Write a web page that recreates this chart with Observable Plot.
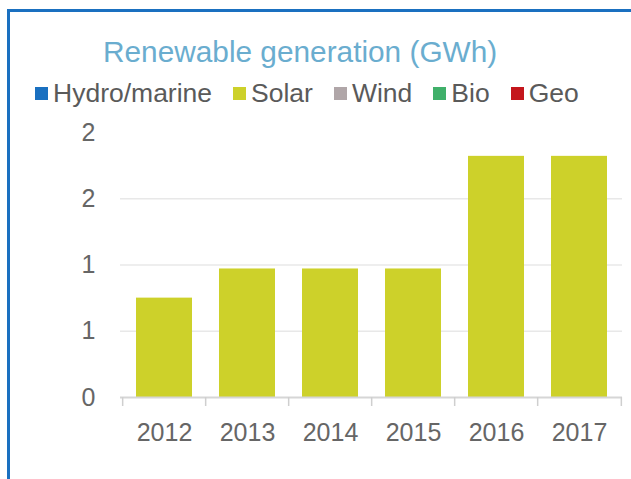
<!DOCTYPE html>
<html><head><meta charset="utf-8">
<script src="https://cdn.jsdelivr.net/npm/d3@7"></script>
<script src="https://cdn.jsdelivr.net/npm/@observablehq/plot@0.6"></script>
<style>
body{margin:0;background:#fff;overflow:hidden;}
#wrap{position:relative;width:631px;height:479px;overflow:hidden;font-family:"Liberation Sans",Arial,sans-serif;}
#frame{position:absolute;left:7px;top:9px;width:700px;height:600px;border-left:3px solid #1a70c0;border-top:3px solid #1a70c0;}
#title{position:absolute;left:103px;top:37px;font-size:29.8px;line-height:1;color:#6aadcf;white-space:nowrap;}
#legend{position:absolute;left:35px;top:80px;display:flex;align-items:center;font-size:26.5px;line-height:1;color:#5a5a5a;white-space:nowrap;}
.item{display:flex;align-items:center;margin-right:21px;}
.sw{width:13px;height:13px;margin-right:5px;}
#chart{position:absolute;left:0;top:110px;}
</style></head>
<body>
<div id="wrap">
  <div id="frame"></div>
  <div id="title">Renewable generation (GWh)</div>
  <div id="legend"></div>
  <div id="chart"></div>
</div>
<script>
const years = ["2012", "2013", "2014", "2015", "2016", "2017"];
const seriesNames = ["Hydro/marine", "Solar", "Wind", "Bio", "Geo"];
const seriesColors = ["#1a70c0", "#cdd12a", "#b0a6a8", "#40b06a", "#c4161c"];
const hydro = [0, 0, 0, 0, 0, 0];
const solar = [0.75, 0.97, 0.97, 0.97, 1.82, 1.82];
const wind = [0, 0, 0, 0, 0, 0];
const bio = [0, 0, 0, 0, 0, 0];
const geo = [0, 0, 0, 0, 0, 0];
const yTicks = [0, 0.5, 1, 1.5, 2];
const gridValues = [0.5, 1, 1.5];

const seriesValues = [hydro, solar, wind, bio, geo];
const table = [];
seriesNames.forEach((s, i) => years.forEach((y, j) => {
  if (seriesValues[i][j] > 0) table.push({year: y, series: s, value: seriesValues[i][j]});
}));

const legend = document.getElementById("legend");
seriesNames.forEach((s, i) => {
  const it = document.createElement("div");
  it.className = "item";
  const sw = document.createElement("div");
  sw.className = "sw";
  sw.style.background = seriesColors[i];
  const t = document.createElement("span");
  t.textContent = s;
  it.appendChild(sw); it.appendChild(t);
  legend.appendChild(it);
});

const W = 631, H = 369, mT = 22, mB = 82, mL = 120, mR = 9;
const step = (W - mL - mR) / years.length;
const frameH = H - mT - mB;

const plot = Plot.plot({
  width: W, height: H,
  marginTop: mT, marginBottom: mB, marginLeft: mL, marginRight: mR,
  style: {fontFamily: '"Liberation Sans", Arial, sans-serif', fontSize: "25px", color: "#666666", background: "transparent"},
  x: {domain: years, paddingInner: 0.33, paddingOuter: 0.165, label: null, tickSize: 0, tickPadding: 26},
  y: {domain: [0, 2], ticks: yTicks, tickFormat: d => String(Math.round(d)), label: null, tickSize: 0, tickPadding: 25},
  color: {domain: seriesNames, range: seriesColors},
  marks: [
    Plot.ruleY(gridValues, {stroke: "#e8e8e8", strokeWidth: 1.5}),
    Plot.barY(table, Plot.stackY({x: "year", y: "value", fill: "series", order: seriesNames})),
    Plot.ruleY([0], {stroke: "#d6d6d6", strokeWidth: 2}),
    Plot.ruleX(years, {x: d => d, dx: -step / 2, insetTop: frameH, insetBottom: -9, stroke: "#cfcfcf", strokeWidth: 1.5}),
    Plot.ruleX([years[years.length - 1]], {x: d => d, dx: step / 2, insetTop: frameH, insetBottom: -9, stroke: "#cfcfcf", strokeWidth: 1.5})
  ]
});
document.getElementById("chart").appendChild(plot);
</script>
</body></html>
